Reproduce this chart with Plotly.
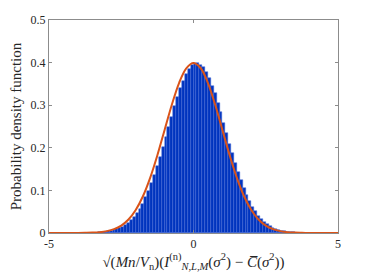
import plotly.graph_objects as go

# Histogram bin centres (bin width 0.1) and read densities
bin_centers = [round(-3.95 + 0.1 * k, 2) for k in range(80)]
density = [0.0001, 0.0001, 0.0002, 0.0003, 0.0005, 0.0007, 0.0010, 0.0014, 0.0019, 0.0026,
           0.0036, 0.0049, 0.0064, 0.0087, 0.0112, 0.0148, 0.0188, 0.0243, 0.0301, 0.0380,
           0.0466, 0.0575, 0.0691, 0.0836, 0.0985, 0.1167, 0.1350, 0.1565, 0.1776, 0.2016,
           0.2247, 0.2497, 0.2728, 0.2970, 0.3182, 0.3396, 0.3567, 0.3731, 0.3842, 0.3937,
           0.3975, 0.3992, 0.3951, 0.3890, 0.3772, 0.3642, 0.3461, 0.3276, 0.3050, 0.2832,
           0.2583, 0.2352, 0.2101, 0.1877, 0.1642, 0.1440, 0.1233, 0.1061, 0.0889, 0.0752,
           0.0616, 0.0511, 0.0410, 0.0334, 0.0262, 0.0209, 0.0162, 0.0127, 0.0095, 0.0074,
           0.0054, 0.0041, 0.0030, 0.0022, 0.0016, 0.0011, 0.0008, 0.0005, 0.0004, 0.0003]

# Reference normal density curve, read points
curve_x = [-5, -4.75, -4.5, -4.25, -4, -3.75, -3.5, -3.25, -3, -2.75, -2.5, -2.25, -2, -1.75,
           -1.5, -1.25, -1, -0.75, -0.5, -0.25, 0, 0.25, 0.5, 0.75, 1, 1.25, 1.5, 1.75, 2,
           2.25, 2.5, 2.75, 3, 3.25, 3.5, 3.75, 4, 4.25, 4.5, 4.75, 5]
curve_y = [0.0000, 0.0000, 0.0000, 0.0000, 0.0001, 0.0004, 0.0009, 0.0020, 0.0044, 0.0091,
           0.0175, 0.0317, 0.0540, 0.0863, 0.1295, 0.1826, 0.2420, 0.3011, 0.3521, 0.3867,
           0.3989, 0.3867, 0.3521, 0.3011, 0.2420, 0.1826, 0.1295, 0.0863, 0.0540, 0.0317,
           0.0175, 0.0091, 0.0044, 0.0020, 0.0009, 0.0004, 0.0001, 0.0000, 0.0000, 0.0000, 0.0000]

x_ticks = [-5, 0, 5]
x_tick_text = ["-5", "0", "5"]
y_ticks = [0, 0.1, 0.2, 0.3, 0.4, 0.5]
y_tick_text = ["0", "0.1", "0.2", "0.3", "0.4", "0.5"]

font_family = "'Times New Roman', 'Liberation Serif', 'DejaVu Serif', serif"

fig = go.Figure()
fig.add_trace(go.Bar(
    x=bin_centers, y=density, width=0.1,
    marker=dict(color="rgb(0,52,190)", line=dict(color="rgb(70,105,215)", width=0.5)),
    showlegend=False,
))
fig.add_trace(go.Scatter(
    x=curve_x, y=curve_y, mode="lines",
    line=dict(color="rgb(217,83,25)", width=2, shape="spline"),
    showlegend=False,
))

axis_common = dict(
    showline=True, linecolor="#8c8c8c", linewidth=1, mirror="ticks",
    ticks="inside", ticklen=3, tickcolor="#8c8c8c",
    showgrid=False, zeroline=False, automargin=False,
    tickfont=dict(family=font_family, size=12, color="#262626"),
)

# page body has an 8px default margin; compensate so the axes land where the reference has them
fig.update_layout(
    width=374, height=280,
    margin=dict(l=41, r=44, t=12, b=55),
    paper_bgcolor="white", plot_bgcolor="white",
    bargap=0,
    font=dict(family=font_family, color="#262626"),
    xaxis=dict(range=[-5, 5], tickvals=x_ticks, ticktext=x_tick_text,
               title=dict(text="√(<i>Mn</i>/<i>V</i><sub>n</sub>)(<i>I</i><sup>(n)</sup><sub><i>N,L,M</i></sub>(<i>σ</i><sup>2</sup>) − <i>C̅</i>(<i>σ</i><sup>2</sup>))",
                          font=dict(family=font_family, size=15, color="#262626"), standoff=2),
               **axis_common),
    yaxis=dict(range=[0, 0.5], tickvals=y_ticks, ticktext=y_tick_text,
               title=dict(text="Probability density function",
                          font=dict(family=font_family, size=15, color="#262626"), standoff=6),
               **axis_common),
)

fig.write_html("out.html")
